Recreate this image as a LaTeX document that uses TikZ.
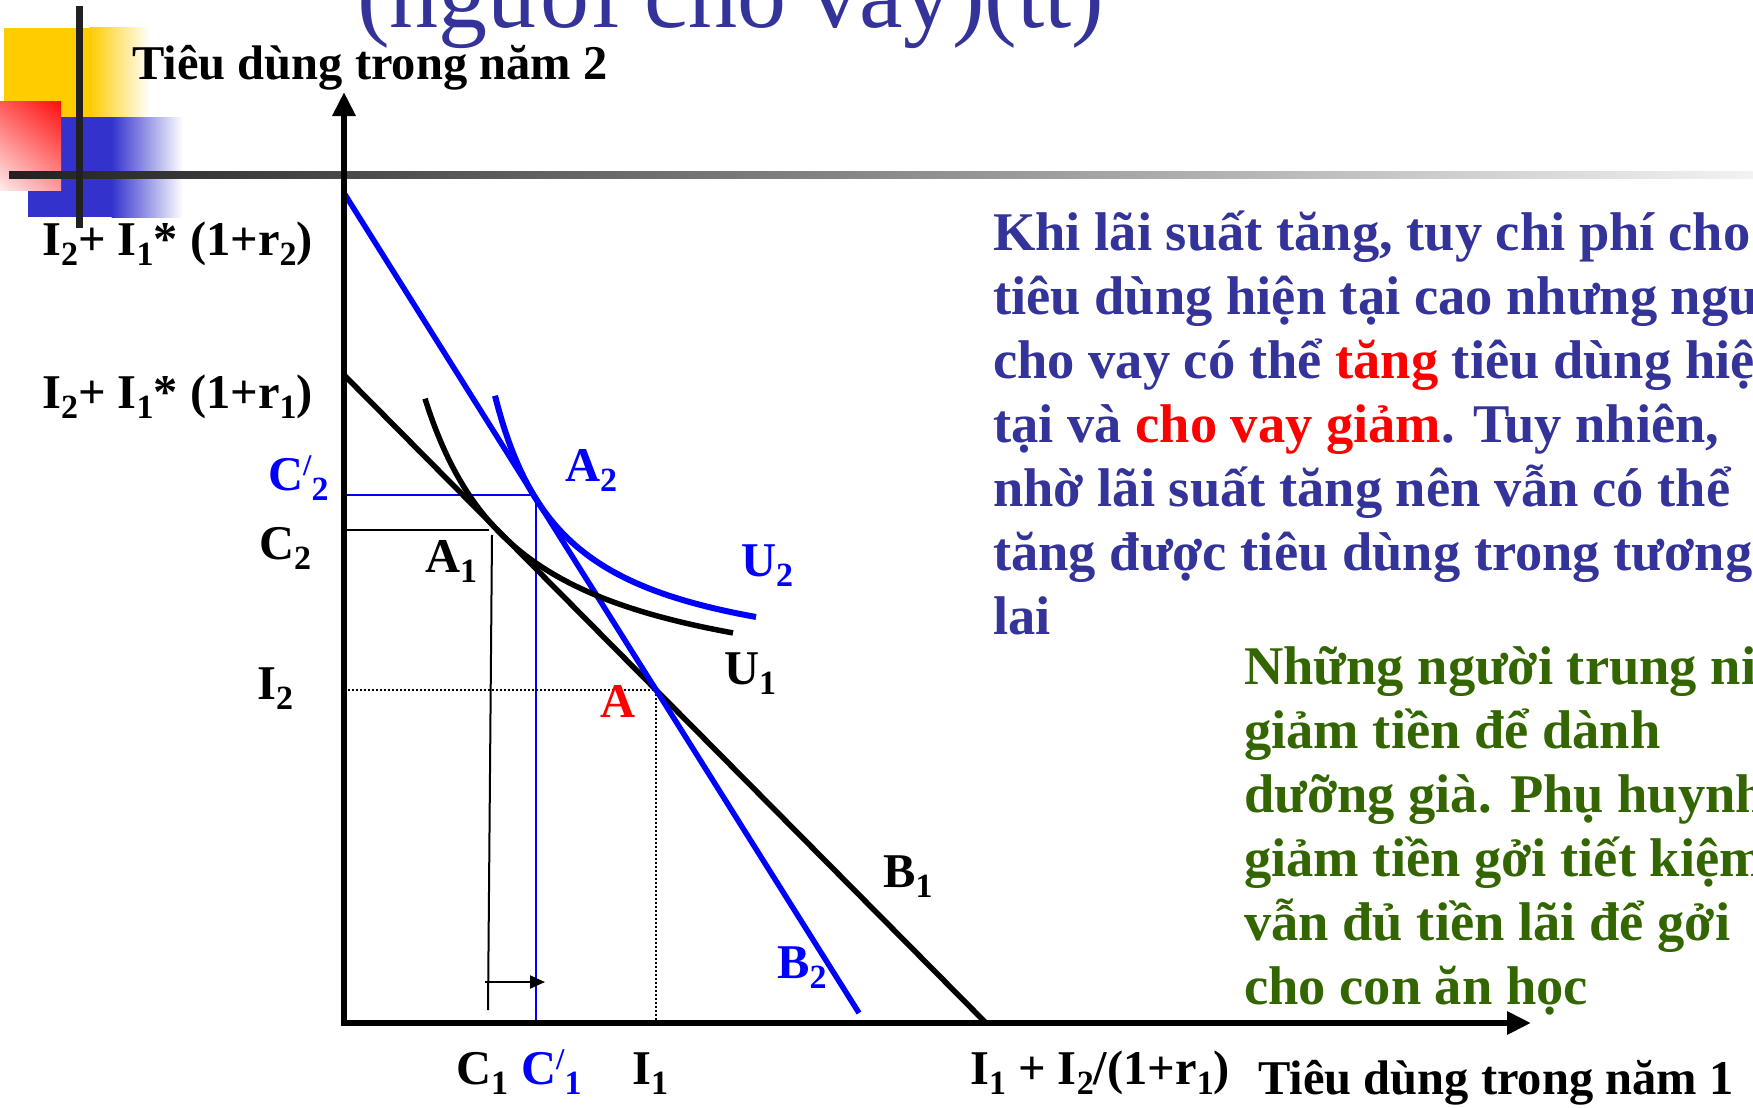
\documentclass[tikz,border=0pt]{standalone}
\usepackage{fontspec}
\usepackage{graphicx}
\setmainfont{Liberation Serif}
\usetikzlibrary{arrows.meta,shadings}
\definecolor{parablue}{HTML}{333399}
\definecolor{paragreen}{HTML}{336600}
\definecolor{decoyellow}{HTML}{FFCC00}
\definecolor{decoblue}{HTML}{3333CC}
\definecolor{pureblue}{HTML}{0000FF}
\newcommand\sbx[1]{\raisebox{-0.22em}{\scalebox{0.7}{#1}}}
\newcommand\prm{\raisebox{0.30em}{\scalebox{0.62}{/}}}
\begin{document}
\begin{tikzpicture}[x=1pt,y=-1pt,
  lbl/.style={anchor=base west, inner sep=0pt, font=\fontsize{48.5}{60}\selectfont\bfseries},
  paraline/.style={anchor=base west, inner sep=0pt, font=\fontsize{54.5}{64}\selectfont\bfseries, text=parablue},
  greenline/.style={anchor=base west, inner sep=0pt, font=\fontsize{54.5}{64}\selectfont\bfseries, text=paragreen},
  axisline/.style={line width=6pt, -{Triangle[length=24pt,width=22pt]}},
  budget/.style={line width=5.5pt},
  thinline/.style={line width=2pt},
  dotline/.style={line width=2pt, dotted},
]
\useasboundingbox (0,0) rectangle (1753,1108);
\clip (0,0) rectangle (1753,1108);

% decoration
\fill[decoyellow] (4,28) rectangle (90,117);
\shade[left color=decoyellow, right color=white] (89.5,28) rectangle (150,117);
\fill[decoblue] (28,117) rectangle (112,217);
\shade[left color=decoblue, right color=white] (111.5,117) rectangle (183,217);
\shade[upper left=red!65, upper right=red!95, lower left=red!8, lower right=red!40] (0,101) rectangle (61,190);
\shade[left color=black!87, right color=black!5] (9,171.5) rectangle (1753,178.5);
\draw[line width=7pt, black!87] (79,6) -- (79,228);

% title
\node[anchor=base west, inner sep=0pt, text=parablue, font=\fontsize{98}{110}\selectfont] (title) at (357,28) {(người cho vay)(tt)};

% coordinates
\coordinate (O) at (344,1023);
\coordinate (ytop) at (344,92);
\coordinate (xend) at (1531,1023);
\coordinate (B2s) at (344,193);
\coordinate (B2e) at (859,1013);
\coordinate (B1s) at (344,375);
\coordinate (B1e) at (986,1023);
\coordinate (A) at (656,690);
\coordinate (A2) at (536,495);
\coordinate (C2p) at (344,495);
\coordinate (C1pbot) at (536,1023);
\coordinate (C2) at (344,530);
\coordinate (A1) at (489,530);
\coordinate (A1v) at (492,535);
\coordinate (C1bot) at (488,1010);
\coordinate (I2) at (344,690);
\coordinate (I1) at (656,1023);
\coordinate (arrS) at (485,982);
\coordinate (arrE) at (545,982);

% guide lines
\draw[thinline, pureblue] (C2p) -- (A2) -- (C1pbot);
\draw[thinline] (C2) -- (A1);
\draw[thinline] (A1v) -- (C1bot);
\draw[dotline] (I2) -- (A) -- (I1);
\draw[thinline, -{Triangle[length=15pt,width=13pt]}] (arrS) -- (arrE);

% budget lines
\draw[budget] (B1s) -- (B1e);
\draw[budget, pureblue] (B2s) -- (B2e);

% indifference curves
\draw[line width=5.5pt] plot[domain=425:733, samples=80] (\x, {706.7 - 298.8/((\x-328)/100)});
\draw[line width=6pt, pureblue] plot[domain=495:756, samples=80] (\x, {676.9 - 198.76/((\x-424.3)/100)});

% axes
\draw[axisline] (O) -- (ytop);
\draw[axisline] ([xshift=-3pt]O) -- (xend);

% axis labels
\node[lbl] (ylab) at (132,80) {Tiêu dùng trong năm 2};
\node[lbl] (xlab) at (1258,1094) {Tiêu dùng trong năm 1};
\node[lbl] (lr2) at (42,255) {I\sbx{2}+ I\sbx{1}* (1+r\sbx{2})};
\node[lbl] (lr1) at (42,408) {I\sbx{2}+ I\sbx{1}* (1+r\sbx{1})};
\node[lbl, text=pureblue] (lc2p) at (268,490) {C\prm\sbx{2}};
\node[lbl] (lc2) at (259,559) {C\sbx{2}};
\node[lbl] (li2) at (257,699) {I\sbx{2}};
\node[lbl] (la1) at (425,572) {A\sbx{1}};
\node[lbl, text=pureblue] (la2) at (565,481) {A\sbx{2}};
\node[lbl, text=pureblue] (lu2) at (741,576) {U\sbx{2}};
\node[lbl] (lu1) at (724,684) {U\sbx{1}};
\node[lbl, text=red] (la) at (600,717) {A};
\node[lbl] (lb1) at (883,887) {B\sbx{1}};
\node[lbl, text=pureblue] (lb2) at (777,978) {B\sbx{2}};
\node[lbl] (lc1) at (456,1084) {C\sbx{1}};
\node[lbl, text=pureblue] (lc1p) at (521,1084) {C\prm\sbx{1}};
\node[lbl] (li1) at (632,1084) {I\sbx{1}};
\node[lbl] (lsum) at (970,1084) {I\sbx{1} + I\sbx{2}/(1+r\sbx{1})};

% blue paragraph
\node[paraline] (p1) at (993,250) {Khi lãi suất tăng, tuy chi phí cho};
\node[paraline] (p2) at (993,314) {tiêu dùng hiện tại cao nhưng người};
\node[paraline] (p3) at (993,378) {cho vay có thể \textcolor{red}{tăng} tiêu dùng hiện};
\node[paraline] (p4) at (993,442) {tại và \textcolor{red}{cho vay giảm}. Tuy nhiên,};
\node[paraline] (p5) at (993,506) {nhờ lãi suất tăng nên vẫn có thể};
\node[paraline] (p6) at (993,570) {tăng được tiêu dùng trong tương};
\node[paraline] (p7) at (993,634) {lai};

% green paragraph
\node[greenline] (g1) at (1244,684) {Những người trung niên};
\node[greenline] (g2) at (1244,748) {giảm tiền để dành};
\node[greenline] (g3) at (1244,812) {dưỡng già. Phụ huynh};
\node[greenline] (g4) at (1244,876) {giảm tiền gởi tiết kiệm};
\node[greenline] (g5) at (1244,940) {vẫn đủ tiền lãi để gởi};
\node[greenline] (g6) at (1244,1004) {cho con ăn học};
\end{tikzpicture}
\end{document}
